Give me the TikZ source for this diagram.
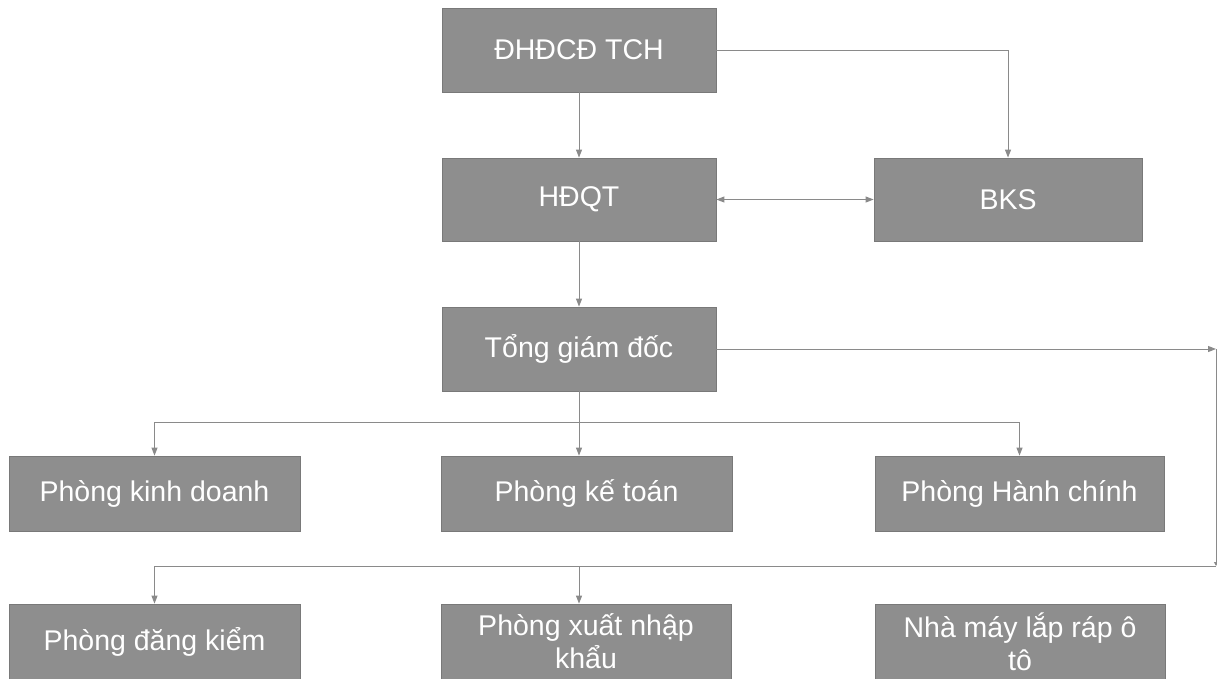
\documentclass[tikz,border=0pt]{standalone}
\usepackage{fontspec}
\setmainfont{Liberation Sans}
\usetikzlibrary{arrows.meta}
\definecolor{boxgray}{HTML}{8E8E8E}
\definecolor{linegray}{HTML}{8A8A8A}
\tikzstyle{box}=[draw=boxgray!85!black, line width=0.8pt, fill=boxgray, text=white, inner sep=0pt, align=center, font=\fontsize{28.5}{33}\selectfont]
\tikzstyle{link}=[draw=linegray, line width=1pt, -{Triangle[length=8pt,width=6pt]}]

\begin{document}
\begin{tikzpicture}[x=1pt, y=-1pt]
    \useasboundingbox (0,0) rectangle (1217,678);
% Boxes
    \node[box, minimum width=274, minimum height=84] (dhdcd) at (579,50) {ĐHĐCĐ TCH};
    \node[box, minimum width=274, minimum height=83] (hdqt) at (579,199.5) {HĐQT};
    \node[box, minimum width=268, minimum height=83] (bks) at (1008,199.5) {BKS};
    \node[box, minimum width=274, minimum height=84] (tgd) at (579,349) {Tổng giám đốc};
    \node[box, minimum width=291, minimum height=75] (pkd) at (154.5,493.5) {Phòng kinh doanh};
    \node[box, minimum width=291, minimum height=75] (pkt) at (586.5,493.5) {Phòng kế toán};
    \node[box, minimum width=289, minimum height=75] (phc) at (1019.5,493.5) {Phòng Hành chính};
    \node[box, minimum width=291, minimum height=75] (pdk) at (154.5,641.5) {Phòng đăng kiểm};
    \node[box, minimum width=290, minimum height=75] (pxnk) at (586,641.5) {Phòng xuất nhập\\khẩu};
    \node[box, minimum width=290, minimum height=75] (nmlr) at (1020,641.5) {Nhà máy lắp ráp ô\\tô};
% Bus points
    \coordinate (bus1) at (579,422);
    \coordinate (turn) at (1216,349);
    \coordinate (bus2) at (1216,566);
% Connectors
    \draw[link] (dhdcd) -- (hdqt);
    \draw[link] (dhdcd.east) -| (bks.north);
    \draw[link, {Triangle[length=8pt,width=6pt]}-{Triangle[length=8pt,width=6pt]}] (hdqt.east) -- (bks.west);
    \draw[link] (hdqt) -- (tgd);
    \draw[link] (tgd.south) -- (tgd.south |- pkt.north);
    \draw[link] (bus1) -| (pkd.north);
    \draw[link] (bus1) -| (phc.north);
    \draw[link] (tgd.east) -- (turn);
    \draw[link, -{Triangle[length=4pt,width=4pt]}] (turn) -- (bus2);
    \draw[link] (bus2) -| (pdk.north);
    \draw[link] (tgd |- bus2) -- (tgd |- pxnk.north);
\end{tikzpicture}
\end{document}
